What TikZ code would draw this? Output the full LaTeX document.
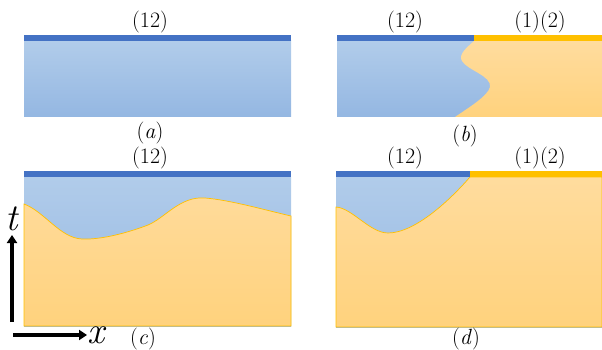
\documentclass[tikz,border=0pt]{standalone}
\usetikzlibrary{arrows.meta}
\definecolor{barblue}{HTML}{4472C4}
\definecolor{barorange}{HTML}{FFC000}
\definecolor{bluetop}{HTML}{B1CCEA}
\definecolor{bluebot}{HTML}{94B7E2}
\definecolor{orangetop}{HTML}{FFDC9E}
\definecolor{orangebot}{HTML}{FFD27D}
\tikzset{
	lab/.style={font=\fontsize{22}{26}\selectfont, inner sep=0pt},
	axlab/.style={font=\fontsize{38}{42}\selectfont\itshape, inner sep=0pt},
	bar/.style={line width=6pt},
	axis/.style={line width=3.4pt, -{Triangle[length=8pt,width=10pt]}},
	blueshade/.style={top color=bluetop, bottom color=bluebot},
	orangeshade/.style={top color=orangetop, bottom color=orangebot},
}
\begin{document}
\begin{tikzpicture}[x=1pt,y=-1pt]
	\useasboundingbox (0,0) rectangle (602,350);
	
	% (a)
	\shade[blueshade] (24,41) rectangle (291,117);
	\draw[bar, barblue] (24,38) -- (291,38);
	\node[lab] (a12) at (150,22) {(12)};
	\node[lab] (acap) at (150,133) {(\textit{a})};
	
	% (b)
	\shade[blueshade] (337,41) rectangle (602,117);
	\begin{scope}
	\clip (474,41) .. controls (466,48) and (458,55) .. (462,61)
		.. controls (467,70) and (492,76) .. (490,87)
		.. controls (488,96) and (468,108) .. (455,117)
		-- (602,117) -- (602,41) -- cycle;
	\shade[orangeshade] (337,41) rectangle (602,117);
	\end{scope}
	\draw[bar, barblue] (337,38) -- (474,38);
	\draw[bar, barorange] (474,38) -- (602,38);
	\node[lab] (b12) at (405,22) {(12)};
	\node[lab] (b1b2) at (540,22) {(1)(2)};
	\node[lab] (bcap) at (465,136) {(\textit{b})};
	
	% (c)
	\shade[blueshade] (24,177) rectangle (291,326);
	\begin{scope}
	\clip (24,204) .. controls (45,212) and (60,238) .. (82,239)
		.. controls (105,240) and (135,230) .. (148,225)
		.. controls (165,218) and (180,196) .. (205,198)
		.. controls (230,200) and (265,210) .. (291,216)
		-- (291,326) -- (24,326) -- cycle;
	\shade[orangeshade] (24,177) rectangle (291,326);
	\end{scope}
	\draw[barorange, line width=.7pt] (24,204) .. controls (45,212) and (60,238) .. (82,239)
		.. controls (105,240) and (135,230) .. (148,225)
		.. controls (165,218) and (180,196) .. (205,198)
		.. controls (230,200) and (265,210) .. (291,216)
		-- (291,326) -- (24,326) -- cycle;
	\draw[bar, barblue] (24,174) -- (291,174);
	\node[lab] (c12) at (150,158) {(12)};
	\node[lab] (ccap) at (143,339) {(\textit{c})};
	
	% axes
	\coordinate (tfoot) at (12,322);
	\coordinate (xfoot) at (13,335);
	\node[axlab, anchor=south] (t) at (12,231) {t};
	\node[axlab, anchor=base west] (x) at (87,343) {x};
	\draw[axis] (tfoot) -- ([yshift=-4pt]t.south);
	\draw[axis] (xfoot) -- (x.west |- xfoot);
	
	% (d)
	\shade[blueshade] (336,177) rectangle (602,327);
	\begin{scope}
	\clip (336,207) .. controls (352,208) and (370,233) .. (388,233)
		.. controls (415,233) and (450,200) .. (470,177)
		-- (602,177) -- (602,327) -- (336,327) -- cycle;
	\shade[orangeshade] (336,177) rectangle (602,327);
	\end{scope}
	\draw[barorange, line width=.7pt] (336,207) .. controls (352,208) and (370,233) .. (388,233)
		.. controls (415,233) and (450,200) .. (470,177)
		-- (602,177) -- (602,327) -- (336,327) -- cycle;
	\draw[bar, barblue] (336,174) -- (470,174);
	\draw[bar, barorange] (470,174) -- (602,174);
	\node[lab] (d12) at (405,158) {(12)};
	\node[lab] (d1d2) at (540,158) {(1)(2)};
	\node[lab] (dcap) at (466,339) {(\textit{d})};
\end{tikzpicture}
\end{document}
